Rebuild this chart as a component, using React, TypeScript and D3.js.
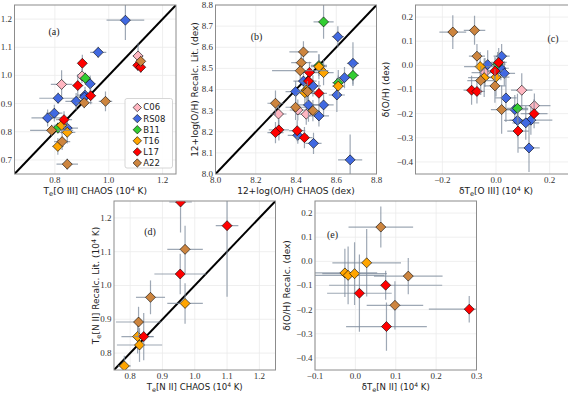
import React from "react";
import * as d3 from "d3";

// sample groups, drawn in this order
const GROUPS = ["C06", "RS08", "B11", "T16", "L17", "A22"];
const GROUP_COLORS = ["#ffb6c1", "#4169e1", "#32cd32", "#ffa500", "#ff0000", "#cd853f"];

// [group, x, y, xerr, yerr]
type Pt = [string, number, number, number, number];

const pointsA: Pt[] = [
  ["RS08", 1.062, 1.196, 0.07, 0.07],
  ["RS08", 0.961, 1.082, 0.03, 0.02],
  ["C06", 1.109, 1.069, 0.02, 0.045],
  ["L17", 1.108, 1.036, 0.015, 0.02],
  ["A22", 1.119, 1.05, 0.015, 0.02],
  ["L17", 1.119, 1.029, 0.015, 0.02],
  ["L17", 0.902, 1.043, 0.015, 0.03],
  ["C06", 0.901, 0.998, 0.02, 0.025],
  ["B11", 0.913, 0.99, 0.02, 0.02],
  ["RS08", 0.931, 0.97, 0.02, 0.03],
  ["C06", 0.825, 0.968, 0.04, 0.05],
  ["L17", 0.885, 0.964, 0.02, 0.04],
  ["RS08", 0.912, 0.93, 0.03, 0.03],
  ["RS08", 0.91, 0.923, 0.03, 0.02],
  ["L17", 0.933, 0.928, 0.02, 0.03],
  ["RS08", 0.812, 0.919, 0.07, 0.02],
  ["RS08", 0.879, 0.908, 0.04, 0.03],
  ["A22", 0.909, 0.903, 0.03, 0.02],
  ["A22", 0.988, 0.908, 0.025, 0.035],
  ["RS08", 0.798, 0.866, 0.03, 0.03],
  ["RS08", 0.773, 0.849, 0.06, 0.03],
  ["L17", 0.834, 0.843, 0.03, 0.03],
  ["RS08", 0.846, 0.813, 0.04, 0.02],
  ["B11", 0.811, 0.813, 0.03, 0.02],
  ["A22", 0.788, 0.805, 0.08, 0.02],
  ["T16", 0.825, 0.823, 0.03, 0.03],
  ["T16", 0.846, 0.798, 0.03, 0.04],
  ["A22", 0.827, 0.765, 0.03, 0.03],
  ["T16", 0.811, 0.748, 0.02, 0.03],
  ["A22", 0.846, 0.685, 0.04, 0.02],
];

const pointsB: Pt[] = [
  ["B11", 8.537, 8.72, 0.05, 0.08],
  ["RS08", 8.608, 8.65, 0.03, 0.05],
  ["A22", 8.437, 8.578, 0.07, 0.05],
  ["A22", 8.426, 8.527, 0.05, 0.05],
  ["RS08", 8.683, 8.524, 0.03, 0.1],
  ["L17", 8.467, 8.481, 0.04, 0.05],
  ["A22", 8.421, 8.489, 0.14, 0.04],
  ["B11", 8.514, 8.514, 0.04, 0.05],
  ["T16", 8.514, 8.508, 0.04, 0.06],
  ["T16", 8.537, 8.48, 0.05, 0.06],
  ["RS08", 8.641, 8.456, 0.03, 0.05],
  ["B11", 8.683, 8.467, 0.03, 0.05],
  ["B11", 8.61, 8.432, 0.03, 0.06],
  ["T16", 8.61, 8.416, 0.03, 0.05],
  ["RS08", 8.437, 8.44, 0.05, 0.05],
  ["L17", 8.462, 8.44, 0.04, 0.05],
  ["RS08", 8.484, 8.417, 0.04, 0.05],
  ["RS08", 8.398, 8.39, 0.05, 0.05],
  ["T16", 8.451, 8.397, 0.04, 0.05],
  ["A22", 8.457, 8.39, 0.04, 0.05],
  ["T16", 8.444, 8.385, 0.04, 0.05],
  ["L17", 8.514, 8.382, 0.04, 0.06],
  ["RS08", 8.603, 8.374, 0.04, 0.08],
  ["A22", 8.298, 8.335, 0.04, 0.06],
  ["RS08", 8.537, 8.327, 0.05, 0.05],
  ["RS08", 8.462, 8.327, 0.05, 0.08],
  ["A22", 8.398, 8.316, 0.05, 0.06],
  ["C06", 8.409, 8.303, 0.04, 0.05],
  ["A22", 8.484, 8.3, 0.03, 0.05],
  ["C06", 8.313, 8.284, 0.04, 0.06],
  ["C06", 8.451, 8.283, 0.05, 0.05],
  ["RS08", 8.514, 8.275, 0.05, 0.05],
  ["L17", 8.315, 8.209, 0.05, 0.05],
  ["L17", 8.298, 8.196, 0.04, 0.05],
  ["L17", 8.406, 8.205, 0.04, 0.05],
  ["RS08", 8.409, 8.183, 0.05, 0.04],
  ["L17", 8.442, 8.172, 0.04, 0.05],
  ["RS08", 8.487, 8.145, 0.04, 0.05],
  ["RS08", 8.669, 8.067, 0.06, 0.12],
];

const pointsC: Pt[] = [
  ["A22", -0.161, 0.138, 0.05, 0.07],
  ["A22", -0.08, 0.145, 0.04, 0.06],
  ["A22", -0.071, 0.038, 0.03, 0.05],
  ["RS08", 0.021, 0.038, 0.03, 0.05],
  ["RS08", -0.031, 0.003, 0.04, 0.06],
  ["B11", 0.006, 0.005, 0.03, 0.05],
  ["L17", 0.01, 0.012, 0.03, 0.06],
  ["T16", -0.059, -0.005, 0.06, 0.06],
  ["RS08", 0.018, -0.012, 0.03, 0.05],
  ["L17", -0.004, -0.023, 0.03, 0.06],
  ["RS08", 0.031, -0.033, 0.04, 0.05],
  ["C06", -0.041, -0.03, 0.05, 0.06],
  ["T16", -0.044, -0.051, 0.06, 0.08],
  ["A22", -0.057, -0.063, 0.05, 0.06],
  ["T16", 0.0, -0.049, 0.05, 0.08],
  ["A22", -0.004, -0.085, 0.04, 0.07],
  ["L17", -0.091, -0.103, 0.03, 0.06],
  ["L17", -0.071, -0.108, 0.03, 0.05],
  ["C06", 0.096, -0.103, 0.04, 0.07],
  ["RS08", 0.037, -0.135, 0.04, 0.1],
  ["A22", 0.021, -0.183, 0.04, 0.1],
  ["RS08", 0.07, -0.183, 0.05, 0.06],
  ["B11", 0.08, -0.178, 0.04, 0.06],
  ["C06", 0.143, -0.167, 0.06, 0.05],
  ["L17", 0.142, -0.2, 0.05, 0.06],
  ["RS08", 0.08, -0.228, 0.05, 0.07],
  ["RS08", 0.13, -0.227, 0.08, 0.06],
  ["RS08", 0.111, -0.238, 0.05, 0.07],
  ["L17", 0.082, -0.272, 0.04, 0.09],
  ["RS08", 0.123, -0.342, 0.04, 0.1],
];

const pointsD: Pt[] = [
  ["L17", 0.956, 1.247, 0.035, 0.09],
  ["L17", 1.1, 1.177, 0.035, 0.21],
  ["A22", 0.97, 1.107, 0.055, 0.07],
  ["L17", 0.955, 1.034, 0.08, 0.06],
  ["A22", 0.863, 0.965, 0.045, 0.05],
  ["T16", 0.97, 0.947, 0.055, 0.06],
  ["A22", 0.826, 0.892, 0.07, 0.045],
  ["T16", 0.823, 0.849, 0.05, 0.05],
  ["L17", 0.842, 0.849, 0.03, 0.07],
  ["T16", 0.829, 0.824, 0.07, 0.05],
  ["T16", 0.782, 0.762, 0.02, 0.03],
];

const pointsE: Pt[] = [
  ["A22", 0.063, 0.142, 0.08, 0.085],
  ["T16", 0.028, -0.006, 0.085, 0.14],
  ["T16", -0.026, -0.048, 0.08, 0.1],
  ["T16", -0.018, -0.058, 0.09, 0.12],
  ["T16", -0.002, -0.051, 0.08, 0.13],
  ["A22", 0.131, -0.061, 0.085, 0.075],
  ["L17", 0.075, -0.099, 0.14, 0.06],
  ["L17", 0.01, -0.132, 0.08, 0.16],
  ["A22", 0.098, -0.182, 0.07, 0.1],
  ["L17", 0.282, -0.198, 0.1, 0.055],
  ["L17", 0.077, -0.27, 0.1, 0.1],
];

const ticksA = [0.7, 0.8, 0.9, 1.0, 1.1, 1.2];
const ticksAx = [0.8, 1.0, 1.2];
const ticksBx = [8.0, 8.2, 8.4, 8.6, 8.8];
const ticksBy = [8.0, 8.1, 8.2, 8.3, 8.4, 8.5, 8.6, 8.7, 8.8];
const ticksCx = [-0.2, 0.0, 0.2];
const ticksDelta = [-0.4, -0.3, -0.2, -0.1, 0.0, 0.1, 0.2];
const ticksD = [0.8, 0.9, 1.0, 1.1, 1.2];
const ticksEx = [-0.1, 0.0, 0.1, 0.2, 0.3];

const SERIF = "'Liberation Serif', 'DejaVu Serif', serif";
const SANS = "'DejaVu Sans', sans-serif";
const fmt = d3.format(".1f");
const diamond = (r: number) => `M0,${-r}L${r},0L0,${r}L${-r},0Z`;

type Box = { l: number; r: number; t: number; b: number };

const Te = ({ line }: { line: string }) => (
  <>
    T<tspan baselineShift="-25%" fontSize="0.75em">e</tspan>
    {line}
  </>
);
const Unit = () => (
  <>
    (10<tspan baselineShift="45%" fontSize="0.7em">4</tspan> K)
  </>
);

function Panel(props: {
  id: string;
  box: Box;
  xDomain: [number, number];
  yDomain: [number, number];
  xTicks: number[];
  yTicks: number[];
  points: Pt[];
  diag?: boolean;
  label: string;
  labelAt: [number, number];
  xLabel: React.ReactNode;
  yLabel?: React.ReactNode;
  yLabelX?: number;
  xLabelY: number;
  xLabelSize?: number;
}) {
  const { box, points } = props;
  const x = d3.scaleLinear().domain(props.xDomain).range([box.l, box.r]);
  const y = d3.scaleLinear().domain(props.yDomain).range([box.b, box.t]);
  const sorted = [...points].sort((p, q) => GROUPS.indexOf(p[0]) - GROUPS.indexOf(q[0]));
  const byGroup = GROUPS.map((g) => sorted.filter((p) => p[0] === g));
  const clip = `clip-${props.id}`;

  return (
    <g>
      <defs>
        <clipPath id={clip}>
          <rect x={box.l} y={box.t} width={box.r - box.l} height={box.b - box.t} />
        </clipPath>
      </defs>
      <rect x={box.l} y={box.t} width={box.r - box.l} height={box.b - box.t} fill="white" />
      {props.xTicks.map((t) => (
        <line key={"gx" + t} x1={x(t)} x2={x(t)} y1={box.t} y2={box.b} stroke="#ebebeb" strokeWidth={0.8} />
      ))}
      {props.yTicks.map((t) => (
        <line key={"gy" + t} x1={box.l} x2={box.r} y1={y(t)} y2={y(t)} stroke="#ebebeb" strokeWidth={0.8} />
      ))}
      <g clipPath={`url(#${clip})`}>
        {props.diag && (
          <line
            x1={x(props.xDomain[0])}
            y1={y(props.xDomain[0])}
            x2={x(props.xDomain[1])}
            y2={y(props.xDomain[1])}
            stroke="black"
            strokeWidth={2}
          />
        )}
        {byGroup.map((grp, gi) => (
          <g key={GROUPS[gi]}>
            {grp.map((p, i) => (
              <g key={"e" + i} stroke="#7d8b9c" strokeOpacity={0.75} strokeWidth={1.2}>
                <line x1={x(p[1] - p[3])} x2={x(p[1] + p[3])} y1={y(p[2])} y2={y(p[2])} />
                <line x1={x(p[1])} x2={x(p[1])} y1={y(p[2] - p[4])} y2={y(p[2] + p[4])} />
              </g>
            ))}
            {grp.map((p, i) => (
              <path
                key={"m" + i}
                d={diamond(5)}
                transform={`translate(${x(p[1])},${y(p[2])})`}
                fill={GROUP_COLORS[gi]}
                stroke="black"
                strokeWidth={0.6}
              />
            ))}
          </g>
        ))}
      </g>
      <rect
        x={box.l}
        y={box.t}
        width={box.r - box.l}
        height={box.b - box.t}
        fill="none"
        stroke="#8c8c8c"
        strokeWidth={1}
      />
      <g fontFamily={SERIF} fontSize={9} fill="#333">
        {props.xTicks.map((t) => (
          <text key={"tx" + t} x={x(t)} y={box.b + 9} textAnchor="middle">
            {fmt(t)}
          </text>
        ))}
        {props.yTicks.map((t) => (
          <text key={"ty" + t} x={box.l - 2.5} y={y(t)} dy="0.33em" textAnchor="end">
            {fmt(t)}
          </text>
        ))}
        <text x={props.labelAt[0]} y={props.labelAt[1]} dy="0.33em" textAnchor="middle" fontSize={10} fill="#222">
          {props.label}
        </text>
      </g>
      <g fontFamily={SANS} fontSize={9} fill="#222">
        <text x={(box.l + box.r) / 2} y={props.xLabelY} textAnchor="middle" fontSize={props.xLabelSize ?? 9}>
          {props.xLabel}
        </text>
        {props.yLabel && (
          <text
            transform={`translate(${props.yLabelX},${(box.t + box.b) / 2}) rotate(-90)`}
            textAnchor="middle"
            dy="0.33em"
          >
            {props.yLabel}
          </text>
        )}
      </g>
    </g>
  );
}

function Legend({ x0, y0 }: { x0: number; y0: number }) {
  return (
    <g>
      <rect x={x0} y={y0} width={47.5} height={69.5} rx={2} fill="white" fillOpacity={0.9} stroke="#cccccc" strokeWidth={0.8} />
      {GROUPS.map((g, i) => (
        <g key={g} transform={`translate(${x0 + 12.3},${y0 + 9 + i * 11.1})`}>
          <path d={diamond(4.2)} fill={GROUP_COLORS[i]} stroke="black" strokeWidth={0.6} />
          <text x={6} dy="0.35em" fontFamily={SANS} fontSize={8.5} fill="#222">
            {g}
          </text>
        </g>
      ))}
    </g>
  );
}

export default function App() {
  const top = { t: 5, b: 174 };
  const bot = { t: 201, b: 370 };
  return (
    <div style={{ position: "absolute", left: 0, top: 0 }}>
      <svg width={568} height={395} style={{ display: "block", background: "white" }}>
        <Panel
          id="a"
          box={{ l: 14.5, r: 176, ...top }}
          xDomain={[0.65, 1.25]}
          yDomain={[0.65, 1.25]}
          xTicks={ticksAx}
          yTicks={ticksA}
          points={pointsA}
          diag
          label="(a)"
          labelAt={[54, 32]}
          xLabel={<><Te line="[O III] CHAOS " /><Unit /></>}
          xLabelY={194}
        />
        <Legend x0={125} y0={98.5} />
        <Panel
          id="b"
          box={{ l: 215.5, r: 376.5, ...top }}
          xDomain={[8.0, 8.8]}
          yDomain={[8.0, 8.8]}
          xTicks={ticksBx}
          yTicks={ticksBy}
          points={pointsB}
          diag
          label="(b)"
          labelAt={[256.5, 36.5]}
          xLabel="12+log(O/H) CHAOS (dex)"
          yLabel="12+log(O/H) Recalc. Lit. (dex)"
          yLabelX={195}
          xLabelY={194}
        />
        <Panel
          id="c"
          box={{ l: 415.5, r: 576.5, ...top }}
          xDomain={[-0.3, 0.3]}
          yDomain={[-0.45, 0.25]}
          xTicks={ticksCx}
          yTicks={ticksDelta}
          points={pointsC}
          label="(c)"
          labelAt={[553, 39]}
          xLabel={<>δ<Te line="[O III] " /><Unit /></>}
          yLabel="δ(O/H) (dex)"
          yLabelX={386}
          xLabelY={194}
        />
        <Panel
          id="d"
          box={{ l: 114, r: 275.5, ...bot }}
          xDomain={[0.75, 1.25]}
          yDomain={[0.75, 1.25]}
          xTicks={ticksD}
          yTicks={ticksD}
          points={pointsD}
          diag
          label="(d)"
          labelAt={[150, 232]}
          xLabel={<><Te line="[N II] CHAOS " /><Unit /></>}
          yLabel={<><Te line="[N II] Recalc. Lit. " /><Unit /></>}
          yLabelX={96}
          xLabelY={389.5}
          xLabelSize={8.6}
        />
        <Panel
          id="e"
          box={{ l: 315, r: 476.5, ...bot }}
          xDomain={[-0.1, 0.3]}
          yDomain={[-0.45, 0.25]}
          xTicks={ticksEx}
          yTicks={ticksDelta}
          points={pointsE}
          label="(e)"
          labelAt={[332.5, 235]}
          xLabel={<>δ<Te line="[N II] " /><Unit /></>}
          yLabel="δ(O/H) Recalc. (dex)"
          yLabelX={287}
          xLabelY={389.5}
          xLabelSize={8.6}
        />
      </svg>
    </div>
  );
}
